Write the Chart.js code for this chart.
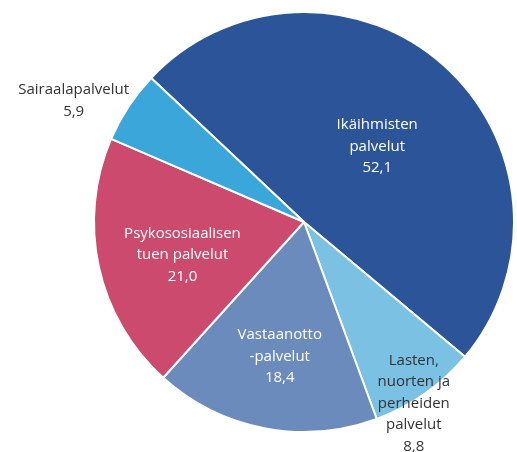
<!DOCTYPE html>
<html>
<head>
<meta charset="utf-8">
<script src="https://cdn.jsdelivr.net/npm/chart.js@4"></script>
<style>
    html, body { margin: 0; padding: 0; background: #ffffff; }
    #wrap { width: 517px; height: 452px; }
</style>
</head>
<body>
<div id="wrap"><canvas id="pieChart" width="517" height="452"></canvas></div>
<script>
// Data
const categories = [
    ['Ikäihmisten', 'palvelut'],
    ['Lasten,', 'nuorten ja', 'perheiden', 'palvelut'],
    ['Vastaanotto', '-palvelut'],
    ['Psykososiaalisen', 'tuen palvelut'],
    ['Sairaalapalvelut']
];
const values = [52.1, 8.8, 18.4, 21.0, 5.9];

const sliceColors = ['#2C5599', '#7AC1E4', '#6B8BBD', '#CB4A6D', '#3BA6DA'];
const textColors = ['#ffffff', '#333333', '#ffffff', '#ffffff', '#333333'];
// label placement: fraction of radius, angle shift in degrees
const labelPlace = [[0.5, 2.6], [1.01, 4], [0.65, -0.7], [0.6, -3], [1.24, -5.5]];

const fmt = v => v.toFixed(1).replace('.', ',');

const sliceLabels = {
    id: 'sliceLabels',
    afterDatasetsDraw(chart) {
        const ctx = chart.ctx;
        const meta = chart.getDatasetMeta(0);
        ctx.save();
        ctx.font = '15px "Open Sans", sans-serif';
        ctx.textAlign = 'center';
        ctx.textBaseline = 'middle';
        meta.data.forEach((arc, i) => {
            const p = arc.getProps(['x', 'y', 'startAngle', 'endAngle', 'outerRadius'], true);
            const mid = (p.startAngle + p.endAngle) / 2 + labelPlace[i][1] * Math.PI / 180;
            const r = p.outerRadius * labelPlace[i][0];
            const cx = p.x + Math.cos(mid) * r;
            const cy = p.y + Math.sin(mid) * r;
            const lines = categories[i].concat([fmt(values[i])]);
            const lh = 21.5;
            const top = cy - (lines.length - 1) * lh / 2;
            ctx.fillStyle = textColors[i];
            lines.forEach((t, j) => ctx.fillText(t, cx, top + j * lh));
        });
        ctx.restore();
    }
};

new Chart(document.getElementById('pieChart').getContext('2d'), {
    type: 'pie',
    data: {
        labels: categories.map(c => c.join(' ')),
        datasets: [{
            data: values,
            backgroundColor: sliceColors,
            borderColor: '#ffffff',
            borderWidth: 2
        }]
    },
    options: {
        responsive: false,
        animation: false,
        rotation: -46.7,
        layout: {
            padding: { left: 93, right: 2, top: 11, bottom: 19 }
        },
        plugins: {
            legend: { display: false },
            tooltip: { enabled: false }
        }
    },
    plugins: [sliceLabels]
});
</script>
</body>
</html>
